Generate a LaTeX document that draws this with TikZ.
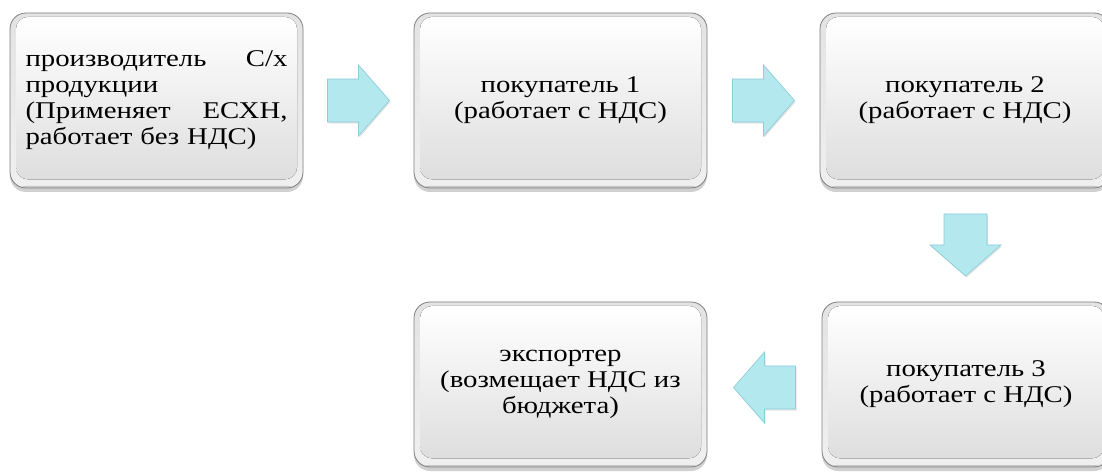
\documentclass[tikz,border=0pt]{standalone}
\usepackage{fontspec}
\setmainfont{Liberation Serif}[FakeStretch=1.2]
\usetikzlibrary{shadows,calc}
\definecolor{arrfill}{RGB}{178,232,238}
\definecolor{arredge}{RGB}{138,206,216}
\definecolor{edgegray}{RGB}{128,128,128}
\tikzset{
  card/.style={rounded corners=12pt, draw=edgegray, line width=0.6pt,
    top color=gray!22, bottom color=gray!12,
    drop shadow={shadow xshift=0pt, shadow yshift=-3pt, opacity=0.3, fill=black!60},
    inner sep=0pt, align=center, font=\fontsize{18}{19.5}\selectfont,
    path picture={
      \fill[gray!45] ([yshift=1.5pt]path picture bounding box.south west) rectangle (path picture bounding box.south east);
      \fill[rounded corners=9pt, top color=white, middle color=white!96!black, bottom color=gray!26]
      ([xshift=4.5pt,yshift=-3pt]path picture bounding box.north west) rectangle
      ([xshift=-4.5pt,yshift=6.5pt]path picture bounding box.south east);}},
  blockarrow/.pic={\filldraw[fill=arrfill, draw=arredge, line width=0.5pt,
      drop shadow={shadow xshift=0.8pt, shadow yshift=-1.2pt, opacity=0.2, fill=black!50}]
      (-31,-21.5) -- (0,-21.5) -- (0,-35.5) -- (31,0) -- (0,35.5) -- (0,21.5) -- (-31,21.5) -- cycle;}
}
\begin{document}
\begin{tikzpicture}[x=0.75pt,y=-0.75pt]
\useasboundingbox (0,0) rectangle (1102,473);
\fill[white] (0,0) rectangle (1102,473);
\clip (0,0) rectangle (1102,473);
\node[card, minimum width=219.75pt, minimum height=131.25pt, text width=196.5pt, align=left] (b1) at (156.5,100.5)
  {производитель\hfill C/x\\продукции\\(Применяет\hfill ЕСХН,\\работает без НДС)};
\node[card, minimum width=219.75pt, minimum height=131.25pt] (b2) at (560.5,100.5)
  {покупатель 1\\(работает с НДС)};
\node[card, minimum width=217.5pt, minimum height=131.25pt] (b3) at (965,100.5)
  {покупатель 2\\(работает с НДС)};
\node[card, minimum width=216pt, minimum height=123.75pt] (b4) at (966,384.5)
  {покупатель 3\\(работает с НДС)};
\node[card, minimum width=219.75pt, minimum height=123.75pt] (b5) at (560.5,384.5)
  {экспортер\\(возмещает НДС из\\бюджета)};
\pic at ($(b1.east)!0.5!(b2.west)$) {blockarrow};
\pic at ($(b2.east)!0.5!(b3.west)$) {blockarrow};
\pic[rotate=-90] at ($(b3.south)!0.5!(b4.north)$) {blockarrow};
\pic[rotate=180] at ($(b5.east)!0.5!(b4.west)+(0,3)$) {blockarrow};
\end{tikzpicture}
\end{document}
